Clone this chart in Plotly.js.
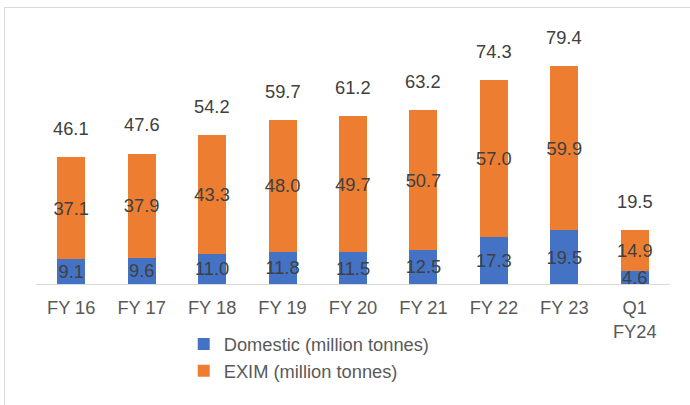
<!DOCTYPE html>
<html>
<head>
<meta charset="utf-8">
<script src="https://cdn.plot.ly/plotly-3.0.1.min.js"></script>
<style>
  html, body { margin: 0; padding: 0; background: #fff; }
  #wrap { position: relative; width: 690px; height: 405px; overflow: hidden; }
  #chart { position: absolute; left: 0; top: 0; width: 690px; height: 405px; }
  #frame { position: absolute; left: 4px; top: 7px; width: 720px; height: 440px; border: 1px solid #d9d9d9; pointer-events: none; }
</style>
</head>
<body>
<div id="wrap"><div id="chart"></div><div id="frame"></div></div>
<script>
const categories = ["FY 16", "FY 17", "FY 18", "FY 19", "FY 20", "FY 21", "FY 22", "FY 23", "Q1<br>FY24"];
const domestic = [9.1, 9.6, 11.0, 11.8, 11.5, 12.5, 17.3, 19.5, 4.6];
const exim = [37.1, 37.9, 43.3, 48.0, 49.7, 50.7, 57.0, 59.9, 14.9];
const totals = [46.1, 47.6, 54.2, 59.7, 61.2, 63.2, 74.3, 79.4, 19.5];

const labelFont = { family: "Liberation Sans, Arial, sans-serif", size: 18.3, color: "#404040" };

const traces = [
  {
    type: "bar", name: "Domestic (million tonnes)", x: categories, y: domestic,
    marker: { color: "#4472C4" },
    texttemplate: "%{y:.1f}", textposition: "inside", insidetextanchor: "middle",
    textangle: 0, constraintext: "none", textfont: labelFont, hoverinfo: "skip"
  },
  {
    type: "bar", name: "EXIM (million tonnes)", x: categories, y: exim,
    marker: { color: "#ED7D31" },
    texttemplate: "%{y:.1f}", textposition: "inside", insidetextanchor: "middle",
    textangle: 0, constraintext: "none", textfont: labelFont, hoverinfo: "skip"
  }
];

const annotations = categories.map((c, i) => ({
  x: c, y: totals[i], xref: "x", yref: "y",
  text: totals[i].toFixed(1), showarrow: false,
  yanchor: "middle", yshift: 28.5, font: labelFont
}));

const layout = {
  width: 690, height: 405,
  margin: { l: 36, r: 20, t: 40, b: 121 },
  barmode: "stack",
  bargap: 0.603,
  paper_bgcolor: "#ffffff", plot_bgcolor: "#ffffff",
  font: { family: "Liberation Sans, Arial, sans-serif", size: 18.3, color: "#595959" },
  xaxis: {
    type: "category", showgrid: false, zeroline: false,
    showline: true, linecolor: "#d9d9d9", linewidth: 1,
    ticks: "", ticklabelstandoff: 7,
    tickfont: { size: 18.3, color: "#595959" }, fixedrange: true
  },
  yaxis: {
    range: [0, 88.86], showgrid: false, zeroline: false, showline: false,
    showticklabels: false, ticks: "", fixedrange: true
  },
  showlegend: true,
  legend: {
    orientation: "v", x: 0.233, y: -0.17, xanchor: "left", yanchor: "top",
    traceorder: "normal", font: { size: 18.3, color: "#595959" },
    bgcolor: "rgba(0,0,0,0)"
  },
  annotations: annotations
};

Plotly.newPlot("chart", traces, layout, { displayModeBar: false, staticPlot: true });
</script>
</body>
</html>
